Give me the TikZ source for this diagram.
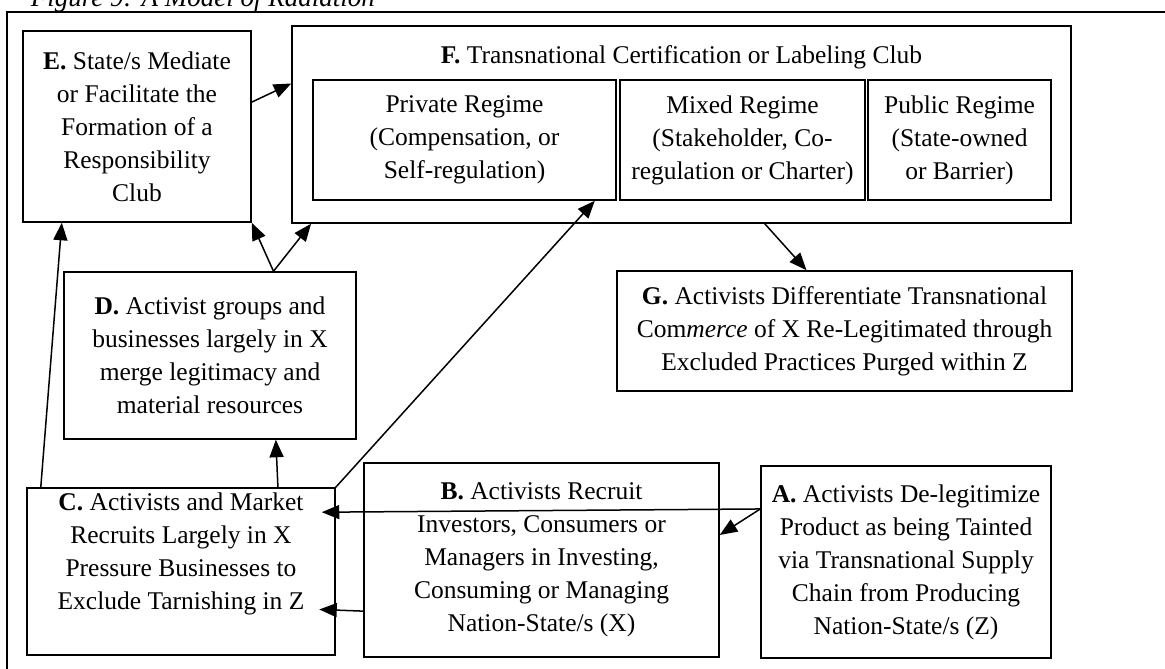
\documentclass[tikz,border=0pt]{standalone}
\usepackage{fontspec}
\setmainfont{Liberation Serif}
\usetikzlibrary{arrows.meta}

\tikzset{
  box/.style={draw, line width=0.6pt, align=center, inner sep=0pt},
  arr/.style={-{Triangle[length=7pt,width=5.6pt]}, line width=0.6pt}
}

\begin{document}
\begin{tikzpicture}[x=0.4pt, y=-0.4pt, font=\fontsize{10.2}{13.2}\selectfont]
   \useasboundingbox (0,0) rectangle (1165,668);
   \draw[line width=0.8pt] (7,12) rectangle (1185,690);
   \node[anchor=base west, font=\fontsize{10.8}{13}\selectfont\itshape] (title) at (22,6) {Figure 9: A Model of Radiation};

   % club and its regimes
   \node[box, minimum width=311.6pt, minimum height=78.8pt] (F) at (681.5,124.5) {};
   \node (Ftitle) at (681.5,57) {\textbf{F.} Transnational Certification or Labeling Club};
   \node[box, minimum width=121.2pt, minimum height=48pt] (P) at (464.5,140) {Private Regime\\(Compensation, or\\Self-regulation)};
   \node[box, minimum width=98pt, minimum height=48pt] (M) at (742.5,140) {Mixed Regime\\(Stakeholder, Co-\\regulation or Charter)};
   \node[box, minimum width=73.2pt, minimum height=48pt] (U) at (959.5,140) {Public Regime\\(State-owned\\or Barrier)};

   \node[box, minimum width=91.2pt, minimum height=76.4pt] (E) at (137,126.5) {\textbf{E.} State/s Mediate\\or Facilitate the\\Formation of a\\Responsibility\\Club};
   \node[box, minimum width=116.8pt, minimum height=66.8pt] (D) at (210,355.5) {\textbf{D.} Activist groups and\\businesses largely in X\\merge legitimacy and\\material resources};
   \node[box, minimum width=182pt, minimum height=48pt] (G) at (844.5,331) {\textbf{G.} Activists Differentiate Transnational\\Com\textit{merce} of X Re-Legitimated through\\Excluded Practices Purged within Z};
   \node[box, minimum width=123.2pt, minimum height=66.8pt] (C) at (181,571.5) {\textbf{C.} Activists and Market\\Recruits Largely in X\\Pressure Businesses to\\Exclude Tarnishing in Z\\[3pt]};
   \node[box, minimum width=142pt, minimum height=77.6pt] (B) at (541.5,560) {\textbf{B.} Activists Recruit\\Investors, Consumers or\\Managers in Investing,\\Consuming or Managing\\Nation-State/s (X)};
   \node[box, minimum width=116pt, minimum height=76.8pt] (A) at (906,562) {\textbf{A.} Activists De-legitimize\\Product as being Tainted\\via Transnational Supply\\Chain from Producing\\Nation-State/s (Z)};

   \def \Links {
      E.12/F.174.6/0pt,
      D.53.4/E.south east/0pt,
      D.53.4/F.195/0pt,
      C.149/E.232.8/0pt,
      C.41/D.-52.1/0pt,
      C.north east/P.-25/0pt,
      F.-50/G.122/0pt,
      A.160.6/C.21.45/-5.6pt,
      A.160.6/B.8.65/0pt,
      B.196.9/C.-14.4/-6.6pt}
   \foreach \u / \v / \s in \Links {
      \draw[arr, shorten >=\s] (\u) -- (\v);
   }
\end{tikzpicture}
\end{document}
